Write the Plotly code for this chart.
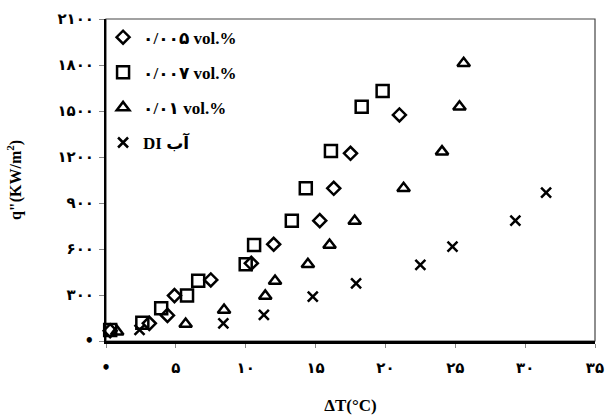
import plotly.graph_objects as go

# ---- data ----
d005_x = [0.3, 3.1, 4.4, 4.9, 7.5, 10.4, 12.0, 15.3, 16.3, 17.5, 21.0]
d005_y = [67, 115, 167, 296, 398, 507, 631, 785, 996, 1224, 1474]

d007_x = [0.3, 2.6, 3.95, 5.8, 6.6, 10.0, 10.6, 13.3, 14.3, 16.1, 18.3, 19.8]
d007_y = [72, 119, 213, 296, 393, 500, 626, 785, 996, 1239, 1528, 1631]

d01_x = [0.8, 5.7, 8.45, 11.4, 12.1, 14.45, 16.0, 17.8, 21.3, 24.05, 25.3, 25.6]
d01_y = [61, 111, 202, 294, 391, 500, 626, 783, 996, 1235, 1528, 1811]

di_x = [2.4, 8.4, 11.3, 14.8, 17.9, 22.5, 24.8, 29.3, 31.5]
di_y = [72, 115, 170, 289, 376, 496, 615, 785, 967]

series_names = ["۰/۰۰۵ vol.%", "۰/۰۰۷ vol.%", "۰/۰۱ vol.%", "DI آب"]

x_tickvals = [0, 5, 10, 15, 20, 25, 30, 35]
x_ticktext = ["•", "۵", "۱۰", "۱۵", "۲۰", "۲۵", "۳۰", "۳۵"]
y_tickvals = [0, 300, 600, 900, 1200, 1500, 1800, 2100]
y_ticktext = ["•", "۳۰۰", "۶۰۰", "۹۰۰", "۱۲۰۰", "۱۵۰۰", "۱۸۰۰", "۲۱۰۰"]

# ---- figure ----
fig = go.Figure()
symbols = ["diamond-open", "square-open", "triangle-up-open", "x-thin-open"]
sizes = [10, 12, 11, 10]
data = [(d005_x, d005_y), (d007_x, d007_y), (d01_x, d01_y), (di_x, di_y)]
for i, ((xs, ys), name) in enumerate(zip(data, series_names)):
    fig.add_trace(go.Scatter(
        x=xs, y=ys, mode="markers", name=name, legendgroup=f"g{i}",
        cliponaxis=False,
        marker=dict(symbol=symbols[i], size=sizes[i], color="black",
                    line=dict(color="black", width=2.5)),
    ))

font_serif = "Liberation Serif, DejaVu Sans, serif"
tick_font = "DejaVu Sans, Liberation Serif, serif"

fig.update_layout(
    width=607, height=415,
    margin=dict(l=106, r=12, t=19, b=74),
    paper_bgcolor="white", plot_bgcolor="white",
    font=dict(family=font_serif, color="black"),
    showlegend=True,
    legend=dict(x=-0.006, y=0.998, xanchor="left", yanchor="top",
                bgcolor="rgba(0,0,0,0)", tracegroupgap=10,
                traceorder="grouped",
                font=dict(family=font_serif, size=17, color="black",
                          weight="bold"),
                itemwidth=30),
    xaxis=dict(range=[0, 35], tickvals=x_tickvals, ticktext=x_ticktext,
               automargin=False,
               showgrid=False, zeroline=False, showline=True,
               linecolor="black", linewidth=2.5, ticks="outside",
               ticklen=4, tickcolor="#888", ticklabelstandoff=7,
               tickfont=dict(family=tick_font, size=15, weight="bold"),
               title=dict(text="ΔT(°C)", standoff=25,
                          font=dict(family=font_serif, size=17,
                                    weight="bold"))),
    yaxis=dict(range=[0, 2100], tickvals=y_tickvals, ticktext=y_ticktext,
               automargin=False,
               showgrid=False, zeroline=False, showline=True,
               linecolor="black", linewidth=2, ticks="outside",
               ticklen=5, tickcolor="#888", ticklabelstandoff=2,
               tickfont=dict(family=tick_font, size=15, weight="bold"),
               title=dict(text="q\"(KW/m<sup>2</sup>)", standoff=32,
                          font=dict(family=font_serif, size=16,
                                    weight="bold"))),
    shapes=[dict(type="rect", xref="paper", yref="paper", x0=0, x1=1,
                 y0=0, y1=1, line=dict(color="#444", width=1.2),
                 layer="below")],
)

fig.write_html("out.html")
